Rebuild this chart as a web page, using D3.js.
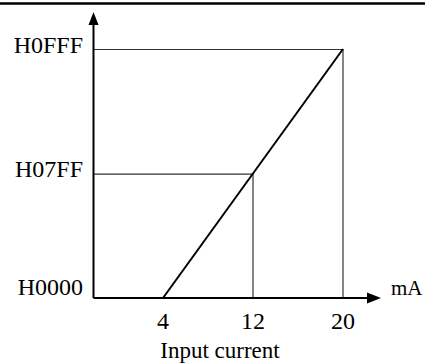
<!DOCTYPE html>
<meta charset="utf-8">
<style>
body { margin: 0; background: #fff; }
svg text { font-family: "Liberation Serif", "Times New Roman", serif; font-size: 24px; fill: #000; }
</style>
<body>
<script src="https://d3js.org/d3.v7.min.js"></script>
<script>

// chart data
var currentTicks = [4, 12, 20];           // mA
var codeTicks = [0, 2047, 4095];          // output code values
var codeLabels = ["H0000", "H07FF", "H0FFF"];
var lineCurrent = [4, 20];
var lineCode = [0, 4095];
var guideCurrent = [12, 20];
var guideCode = [2047, 4095];

var width = 425, height = 363;
var originX = 93.5, originY = 298;

var svg = d3.select("body").append("svg")
    .attr("width", width)
    .attr("height", height);

var x = d3.scaleLinear().domain([4, 20]).range([163, 343]);
var y = d3.scaleLinear().domain([0, 4095]).range([originY, 49]);

// top rule
svg.append("line")
    .attr("x1", 0).attr("x2", width)
    .attr("y1", 3.5).attr("y2", 3.5)
    .attr("stroke", "#000")
    .attr("stroke-width", 2.5);

// guide lines
var guides = guideCurrent.map(function(c, i) { return {c: c, v: guideCode[i]}; });

svg.append("g").selectAll("line.h")
  .data(guides)
  .enter().append("line")
    .attr("x1", originX).attr("x2", function(d) { return x(d.c); })
    .attr("y1", function(d) { return y(d.v) + 0.5; })
    .attr("y2", function(d) { return y(d.v) + 0.5; })
    .attr("stroke", "#333")
    .attr("stroke-width", 1.2);

svg.append("g").selectAll("line.v")
  .data(guides)
  .enter().append("line")
    .attr("x1", function(d) { return x(d.c); })
    .attr("x2", function(d) { return x(d.c); })
    .attr("y1", function(d) { return y(d.v); })
    .attr("y2", originY)
    .attr("stroke", "#333")
    .attr("stroke-width", 1.2);

// transfer line
var pts = lineCurrent.map(function(c, i) { return [x(c), y(lineCode[i])]; });
svg.append("path")
    .attr("d", d3.line()(pts))
    .attr("fill", "none")
    .attr("stroke", "#000")
    .attr("stroke-width", 2);

// axes
svg.append("line")
    .attr("x1", originX).attr("x2", originX)
    .attr("y1", originY).attr("y2", 22)
    .attr("stroke", "#000").attr("stroke-width", 2);
svg.append("path")
    .attr("d", "M" + originX + ",12L" + (originX - 5) + ",25L" + (originX + 5) + ",25Z")
    .attr("fill", "#000");

svg.append("line")
    .attr("x1", originX).attr("x2", 370)
    .attr("y1", originY).attr("y2", originY)
    .attr("stroke", "#000").attr("stroke-width", 2);
svg.append("path")
    .attr("d", "M381," + originY + "L367," + (originY - 5.5) + "L367," + (originY + 5.5) + "Z")
    .attr("fill", "#000");

// y labels
svg.append("g").selectAll("text")
  .data(codeTicks)
  .enter().append("text")
    .attr("x", 83)
    .attr("y", function(d) { return d === 0 ? y(d) - 3 : y(d) + 3.5; })
    .attr("text-anchor", "end")
    .text(function(d, i) { return codeLabels[i]; });

// x labels
svg.append("g").selectAll("text")
  .data(currentTicks)
  .enter().append("text")
    .attr("x", function(d) { return x(d); })
    .attr("y", 329)
    .attr("text-anchor", "middle")
    .text(function(d) { return d; });

svg.append("text")
    .attr("x", 391).attr("y", 295)
    .style("font-size", "21px")
    .text("mA");

svg.append("text")
    .attr("x", 220).attr("y", 358)
    .attr("text-anchor", "middle")
    .style("font-size", "23px")
    .text("Input current");

</script>
</body>
